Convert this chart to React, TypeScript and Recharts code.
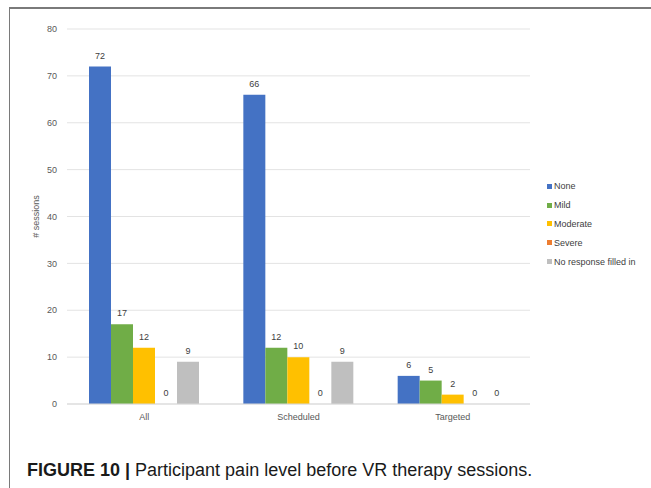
import { BarChart, Bar, XAxis, YAxis, CartesianGrid, Legend, LabelList } from 'recharts';

const groups = ['All', 'Scheduled', 'Targeted'];
const none = [72, 66, 6];
const mild = [17, 12, 5];
const moderate = [12, 10, 2];
const severe = [0, 0, 0];
const noResponse = [9, 9, 0];
const yTicks = [0, 10, 20, 30, 40, 50, 60, 70, 80];

const series = [
  { key: 'none', name: 'None', color: '#4472C4' },
  { key: 'mild', name: 'Mild', color: '#70AD47' },
  { key: 'moderate', name: 'Moderate', color: '#FFC000' },
  { key: 'severe', name: 'Severe', color: '#ED7D31' },
  { key: 'noResponse', name: 'No response filled in', color: '#BFBFBF' },
];

const data = groups.map((g, i) => ({
  group: g,
  none: none[i],
  mild: mild[i],
  moderate: moderate[i],
  severe: severe[i],
  noResponse: noResponse[i],
}));

const chartFont = '"Liberation Sans", Arial, sans-serif';

// legend keeps the series order (recharts would sort it by name)
function LegendList() {
  return (
    <div style={{ fontFamily: chartFont, fontSize: 9, color: '#404040' }}>
      {series.map((s) => (
        <div key={s.key} style={{ display: 'flex', alignItems: 'center', height: 18.8 }}>
          <span style={{ width: 5, height: 5, background: s.color, marginRight: 2, display: 'inline-block' }} />
          <span>{s.name}</span>
        </div>
      ))}
    </div>
  );
}

export default function App() {
  return (
    <div style={{ position: 'absolute', left: 0, top: 0, width: 651, height: 488, background: '#fff', overflow: 'hidden' }}>
      <div
        style={{
          position: 'absolute',
          left: 9,
          top: 7,
          width: 650,
          height: 490,
          borderTop: '2px solid #7a7a7a',
          borderLeft: '1px solid #7a7a7a',
        }}
      />
      <div style={{ position: 'absolute', left: 0, top: 0 }}>
        <BarChart
          width={651}
          height={430}
          data={data}
          margin={{ top: 29, right: 21, bottom: 6, left: 17 }}
          barGap={0}
          barSize={22}
        >
          <CartesianGrid vertical={false} stroke="#e3e3e3" />
          <XAxis
            dataKey="group"
            height={20}
            tickLine={false}
            axisLine={{ stroke: '#d9d9d9' }}
            tick={{ fontSize: 9, fill: '#595959', fontFamily: chartFont }}
            tickMargin={4}
          />
          <YAxis
            width={50}
            domain={[0, 80]}
            ticks={yTicks}
            tickLine={false}
            axisLine={false}
            tickSize={0}
            tickMargin={10}
            tick={{ fontSize: 9, fill: '#595959', fontFamily: chartFont }}
            label={{
              value: '# sessions',
              angle: -90,
              position: 'insideLeft',
              offset: 19,
              style: { textAnchor: 'middle', fontSize: 9, fill: '#595959', fontFamily: chartFont },
            }}
          />
          <Legend
            layout="vertical"
            align="right"
            verticalAlign="middle"
            content={<LegendList />}
            wrapperStyle={{ width: 100, left: 547, top: 177 }}
          />
          {series.map((s) => (
            <Bar
              key={s.key}
              dataKey={s.key}
              name={s.name}
              fill={s.color}
              minPointSize={0.001}
              isAnimationActive={false}
            >
              <LabelList
                dataKey={s.key}
                position="top"
                offset={8}
                style={{ fontSize: 9, fill: '#404040', fontFamily: chartFont }}
              />
            </Bar>
          ))}
        </BarChart>
      </div>
      <div
        style={{
          position: 'absolute',
          left: 27,
          top: 460,
          fontFamily: '"Liberation Sans", Arial, sans-serif',
          fontSize: 18,
          lineHeight: '21px',
          color: '#1a1a1a',
          whiteSpace: 'nowrap',
        }}
      >
        <b>FIGURE 10 |</b> Participant pain level before VR therapy sessions.
      </div>
    </div>
  );
}
